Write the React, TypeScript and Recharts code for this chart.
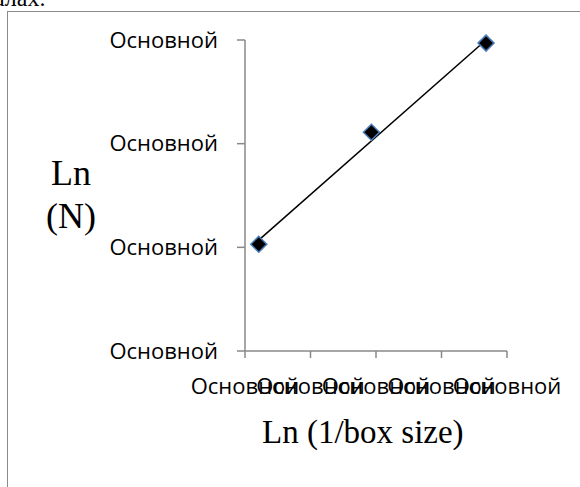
import React from "react";
import { ScatterChart, Scatter, XAxis, YAxis } from "recharts";

const xValues = [0.21, 1.93, 3.68];
const yValues = [1.03, 2.11, 2.97];
const trendX = [0.21, 3.68];
const trendY = [1.07, 3.0];
const xTicks = [0, 1, 2, 3, 4];
const yTicks = [0, 1, 2, 3];
const tickLabel = "Основной";
const xTitle = "Ln (1/box size)";
const yTitleLines = ["Ln", "(N)"];

const data = xValues.map((x, i) => ({ x, y: yValues[i] }));
const trend = trendX.map((x, i) => ({ x, y: trendY[i] }));

const axisColor = "#898989";
const tickFont = { fontFamily: "'Open Sans', sans-serif", fontSize: 22, fill: "#000" };

const Diamond = (props: any) => {
  const { cx, cy } = props;
  const r = 8;
  return (
    <polygon
      points={`${cx},${cy - r} ${cx + r},${cy} ${cx},${cy + r} ${cx - r},${cy}`}
      fill="#000"
      stroke="#4a7ebb"
      strokeWidth={1.5}
    />
  );
};

const NoShape = () => <g />;

export default function App() {
  return (
    <div
      style={{
        position: "absolute",
        left: 0,
        top: 0,
        width: 580,
        height: 487,
        overflow: "hidden",
        background: "#fff",
      }}
    >
      <div
        style={{
          position: "absolute",
          left: -6,
          top: -14,
          fontFamily: "'Liberation Serif', serif",
          fontSize: 24,
          color: "#000",
          lineHeight: "24px",
          whiteSpace: "nowrap",
        }}
      >
        алах.
      </div>
      <div
        style={{
          position: "absolute",
          left: 7,
          top: 11,
          width: 600,
          height: 500,
          border: "1.5px solid #8a8a8a",
          boxSizing: "border-box",
        }}
      />
      <div style={{ position: "absolute", left: 0, top: 0 }}>
        <ScatterChart width={580} height={487} margin={{ top: 40, right: 73, bottom: 96, left: 0 }}>
          <XAxis
            type="number"
            dataKey="x"
            domain={[0, 4]}
            ticks={xTicks}
            tickFormatter={() => tickLabel}
            interval={0}
            height={40}
            axisLine={{ stroke: axisColor, strokeWidth: 1.5 }}
            tickLine={{ stroke: axisColor, strokeWidth: 1.5 }}
            tickSize={7}
            tickMargin={20}
            tick={tickFont}
          />
          <YAxis
            type="number"
            dataKey="y"
            domain={[0, 3]}
            ticks={yTicks}
            tickFormatter={() => tickLabel}
            interval={0}
            width={245}
            axisLine={{ stroke: axisColor, strokeWidth: 1.5 }}
            tickLine={{ stroke: axisColor, strokeWidth: 1.5 }}
            tickSize={8}
            tickMargin={19}
            tick={tickFont}
          />
          <Scatter
            data={trend}
            isAnimationActive={false}
            line={{ stroke: "#000", strokeWidth: 1.5 }}
            shape={NoShape}
          />
          <Scatter data={data} isAnimationActive={false} shape={Diamond} />
        </ScatterChart>
      </div>
      <div
        style={{
          position: "absolute",
          left: 40,
          top: 152,
          width: 62,
          textAlign: "center",
          fontFamily: "'Liberation Serif', serif",
          fontSize: 36,
          lineHeight: "43px",
          color: "#000",
        }}
      >
        {yTitleLines.map((l) => (
          <div key={l}>{l}</div>
        ))}
      </div>
      <div
        style={{
          position: "absolute",
          left: 262,
          top: 412,
          fontFamily: "'Liberation Serif', serif",
          fontSize: 33,
          lineHeight: "40px",
          color: "#000",
          whiteSpace: "nowrap",
        }}
      >
        {xTitle}
      </div>
    </div>
  );
}
